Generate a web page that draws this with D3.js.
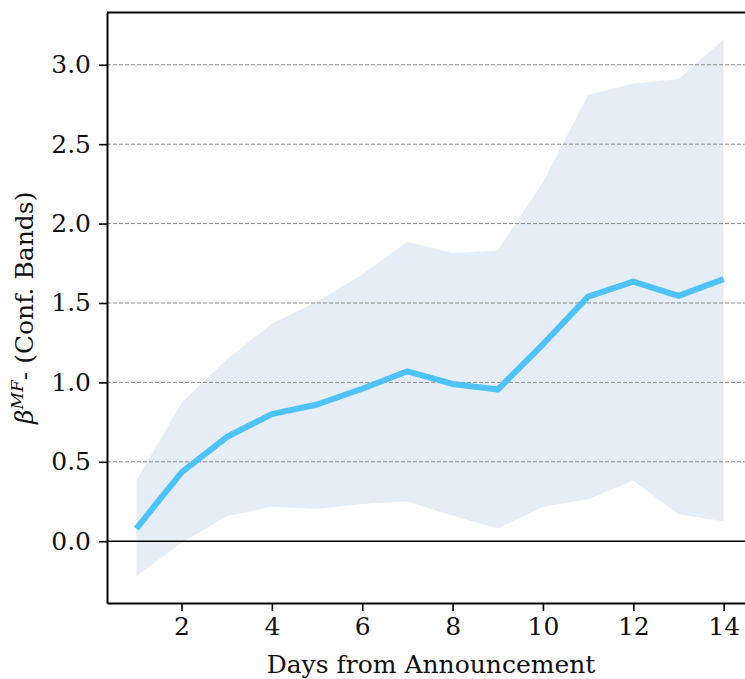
<!DOCTYPE html>
<html lang="en">
<head>
<meta charset="UTF-8">
<script src="https://cdn.jsdelivr.net/npm/d3@7"></script>
<style>
    body { margin: 0; background: white; }
    text { font-family: 'DejaVu Serif', serif; fill: #111; }
</style>
</head>
<body>
<div id="chart"></div>
<script>
    // Data
    const days = [1, 2, 3, 4, 5, 6, 7, 8, 9, 10, 11, 12, 13, 14];
    const beta = [0.08, 0.433, 0.656, 0.80, 0.861, 0.96, 1.07, 0.99, 0.955, 1.24, 1.54, 1.635, 1.545, 1.65];
    const upper = [0.38, 0.872, 1.144, 1.37, 1.51, 1.68, 1.885, 1.815, 1.83, 2.26, 2.81, 2.88, 2.91, 3.16];
    const lower = [-0.22, -0.01, 0.157, 0.217, 0.203, 0.234, 0.25, 0.16, 0.08, 0.217, 0.265, 0.38, 0.17, 0.125];
    const xTicks = [2, 4, 6, 8, 10, 12, 14];
    const yTicks = [0.0, 0.5, 1.0, 1.5, 2.0, 2.5, 3.0];

    const width = 745, height = 679;
    const margin = {left: 107, right: -8, top: 12.5, bottom: 76};
    const fontSize = 25;

    const svg = d3.select("#chart").append("svg")
        .attr("width", width)
        .attr("height", height);

    const x = d3.scaleLinear()
        .domain([0.35, 14.65])
        .range([margin.left, width - margin.right]);

    const y = d3.scaleLinear()
        .domain([-0.389, 3.329])
        .range([height - margin.bottom, margin.top]);

    const rows = days.map((d, i) => ({day: d, beta: beta[i], lo: lower[i], hi: upper[i]}));

    // confidence band
    svg.append("path")
        .datum(rows)
        .attr("fill", "#e5eef6")
        .attr("d", d3.area()
            .x(d => x(d.day))
            .y0(d => y(d.lo))
            .y1(d => y(d.hi)));

    // dashed gridlines (not at zero)
    svg.append("g")
        .selectAll("line")
        .data(yTicks.filter(t => t > 0))
        .enter()
        .append("line")
        .attr("x1", margin.left)
        .attr("x2", width)
        .attr("y1", d => y(d))
        .attr("y2", d => y(d))
        .attr("stroke", "#8c8c8c")
        .attr("stroke-width", 1)
        .attr("stroke-dasharray", "4,2");

    // zero line
    svg.append("line")
        .attr("x1", margin.left)
        .attr("x2", width)
        .attr("y1", y(0))
        .attr("y2", y(0))
        .attr("stroke", "#000")
        .attr("stroke-width", 1.6);

    // estimate line
    svg.append("path")
        .datum(rows)
        .attr("fill", "none")
        .attr("stroke", "#4fc3f7")
        .attr("stroke-width", 6)
        .attr("stroke-linejoin", "round")
        .attr("d", d3.line()
            .x(d => x(d.day))
            .y(d => y(d.beta)));

    // axes
    const xAxis = svg.append("g")
        .attr("transform", `translate(0,${height - margin.bottom})`)
        .call(d3.axisBottom(x).tickValues(xTicks).tickSize(8).tickSizeOuter(0)
            .tickPadding(6).tickFormat(d3.format("d")));

    const yAxis = svg.append("g")
        .attr("transform", `translate(${margin.left},0)`)
        .call(d3.axisLeft(y).tickValues(yTicks).tickSize(8).tickSizeOuter(0)
            .tickPadding(8).tickFormat(d3.format(".1f")));

    [xAxis, yAxis].forEach(g => {
        g.select(".domain").attr("stroke", "#000").attr("stroke-width", 2);
        g.selectAll(".tick line").attr("stroke", "#000").attr("stroke-width", 1.6);
        g.selectAll(".tick text")
            .attr("font-family", "'DejaVu Serif', serif")
            .attr("font-size", fontSize)
            .attr("fill", "#111");
    });

    // top spine
    svg.append("line")
        .attr("x1", margin.left)
        .attr("x2", width)
        .attr("y1", margin.top)
        .attr("y2", margin.top)
        .attr("stroke", "#000")
        .attr("stroke-width", 2);

    // axis labels
    svg.append("text")
        .attr("x", 431)
        .attr("y", 673)
        .attr("text-anchor", "middle")
        .attr("font-size", fontSize)
        .text("Days from Announcement");

    const yLabel = svg.append("text")
        .attr("transform", `translate(33,${(margin.top + height - margin.bottom) / 2}) rotate(-90)`)
        .attr("text-anchor", "middle")
        .attr("font-size", fontSize);
    yLabel.append("tspan").attr("font-style", "italic").text("β");
    yLabel.append("tspan").attr("font-style", "italic").attr("font-size", 17).attr("dy", -10).text("MF");
    yLabel.append("tspan").attr("dy", 10).text("- (Conf. Bands)");
</script>
</body>
</html>
